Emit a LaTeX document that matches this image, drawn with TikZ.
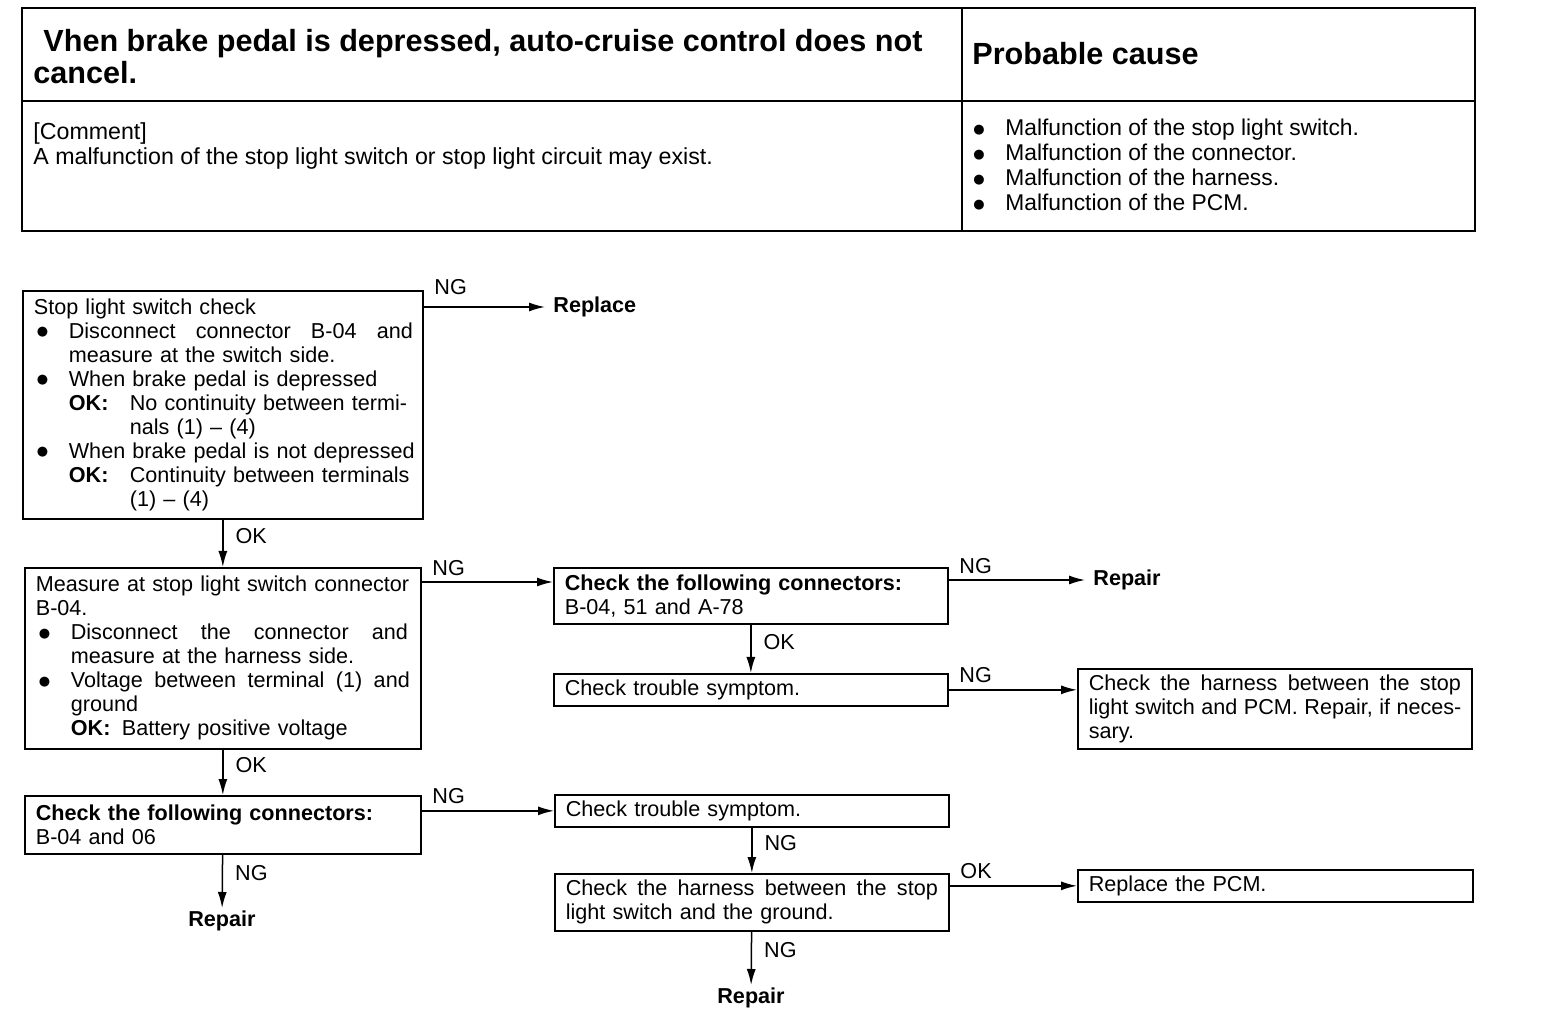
\documentclass[tikz,border=0pt]{standalone}
\usepackage{fontspec}
\setmainfont{Liberation Sans}
\newfontfamily\symfont{DejaVu Sans}
\usetikzlibrary{positioning}
\usetikzlibrary{calc}
\usetikzlibrary{arrows.meta}

\newcommand{\bodyfont}{\fontsize{10.8}{12}\selectfont}
\newcommand{\bul}{\makebox[17.5pt][l]{\hspace{1.5pt}\raisebox{1.3pt}{\symfont\fontsize{6.5}{6.5}\selectfont ●}}}
\newcommand{\ind}{\hspace*{17.5pt}}
\newcommand{\okk}[1]{\makebox[#1][l]{\textbf{OK:}}}
\newcommand{\jl}[2]{{\spaceskip=0.3em plus 2em\makebox[#1][s]{#2}}}

\begin{document}
\begin{tikzpicture}[x=0.5pt, y=-0.5pt,
    box/.style={draw, line width=0.85pt, anchor=north west, align=left, inner xsep=5.5pt, inner ysep=2pt, font=\bodyfont},
    lbl/.style={inner sep=1pt, font=\bodyfont},
    endlbl/.style={inner xsep=4pt, inner ysep=1pt, font=\bodyfont\bfseries},
    arr/.style={-{Latex[length=8pt, width=4.5pt]}, line width=0.75pt}]
    \useasboundingbox (0,0) rectangle (1568,1020);

    % header table
    \draw[line width=1.1pt] (22,8) rectangle (1475,231);
    \draw[line width=0.7pt] (22,101) -- (1475,101) (962,8) -- (962,231);
    \node[anchor=north west, inner sep=0, align=left, font=\fontsize{15.3}{16}\selectfont\bfseries] (ttl) at (33,29) {\hspace*{5pt}Vhen brake pedal is depressed, auto-cruise control does not\\ cancel.};
    \node[anchor=base west, inner sep=0, font=\fontsize{15.3}{16}\selectfont\bfseries] (pc) at (972,65) {Probable cause};
    \node[anchor=north west, inner sep=0, align=left, font=\fontsize{11.6}{12.5}\selectfont] (cmt) at (33,122) {[Comment]\\ A malfunction of the stop light switch or stop light circuit may exist.};
    \node[anchor=north west, inner sep=0, align=left, font=\fontsize{11.4}{12.5}\selectfont] (cause) at (970,119) {\bul Malfunction of the stop light switch.\\ \bul Malfunction of the connector.\\ \bul Malfunction of the harness.\\ \bul Malfunction of the PCM.};

    % check boxes
    \node[box, minimum width=200pt, minimum height=114pt, text width=189pt] (swchk) at (22,290) {Stop light switch check\\
        \bul\jl{172pt}{Disconnect connector B-04 and}\\
        \ind measure at the switch side.\\
        \bul When brake pedal is depressed\\
        \ind\okk{30.5pt}No continuity between termi-\\
        \ind\hspace*{30.5pt}nals (1) -- (4)\\
        \bul\mbox{When brake pedal is not depressed}\\
        \ind\okk{30.5pt}Continuity between terminals\\
        \ind\hspace*{30.5pt}(1) -- (4)};
    \node[box, minimum width=198pt, minimum height=90.5pt, text width=187pt] (meas) at (24,567) {Measure at stop light switch connector\\
        B-04.\\
        \bul\jl{168.5pt}{Disconnect the connector and}\\
        \ind measure at the harness side.\\
        \bul\jl{169.5pt}{Voltage between terminal (1) and}\\
        \ind ground\\
        \ind\okk{25.5pt}Battery positive voltage};
    \node[box, minimum width=198pt, minimum height=29pt, text width=187pt] (conn2) at (24,795) {\textbf{Check the following connectors:}\\ B-04 and 06};
    \node[box, minimum width=197pt, minimum height=28pt, text width=186pt] (conn1) at (553,567) {\textbf{Check the following connectors:}\\ B-04, 51 and A-78};
    \node[box, minimum width=197pt, minimum height=16pt, text width=186pt] (sym1) at (553,673) {Check trouble symptom.};
    \node[box, minimum width=197pt, minimum height=16pt, text width=186pt] (sym2) at (554,794) {Check trouble symptom.};
    \node[box, minimum width=197pt, minimum height=28.5pt, text width=186pt] (hgnd) at (554,873) {\jl{186pt}{Check the harness between the stop}\\ light switch and the ground.};
    \node[box, minimum width=197pt, minimum height=40pt, text width=186pt] (hpcm) at (1077,668) {\jl{186pt}{Check the harness between the stop}\\ \jl{186pt}{light switch and PCM. Repair, if neces-}\\ sary.};
    \node[box, minimum width=197.5pt, minimum height=16pt, text width=186.5pt] (pcm) at (1077,869) {Replace the PCM.};

    % results
    \node[endlbl, anchor=west] (rep1) at (545,307) {Replace};
    \node[endlbl, anchor=west] (rep2) at (1085,580) {Repair};
    \node[endlbl, anchor=north] (rep3) at (222,908) {Repair};
    \node[endlbl, anchor=north] (rep4) at (751,985) {Repair};

    % connectors
    \coordinate (in3) at ($(conn1.north west)+(0,15)$);
    \draw[arr] (swchk.east |- rep1) -- (rep1) node[lbl, pos=0, anchor=south west, xshift=4pt, yshift=5pt] {NG};
    \draw[arr] (swchk) -- (meas) node[lbl, pos=0.35, right=5pt] {OK};
    \draw[arr] (meas.east |- in3) -- (in3) node[lbl, pos=0, anchor=south west, xshift=4pt, yshift=2pt] {NG};
    \draw[arr] (conn1.east |- rep2) -- (rep2) node[lbl, pos=0, anchor=south west, xshift=4pt, yshift=2pt] {NG};
    \draw[arr] (conn1) -- (sym1) node[lbl, pos=0.35, right=5pt] {OK};
    \draw[arr] (sym1) -- (sym1 -| hpcm.west) node[lbl, pos=0, anchor=south west, xshift=4pt, yshift=2pt] {NG};
    \draw[arr] (meas) -- (conn2) node[lbl, pos=0.35, right=5pt] {OK};
    \draw[arr] (conn2.east |- sym2) -- (sym2) node[lbl, pos=0, anchor=south west, xshift=4pt, yshift=2pt] {NG};
    \draw[arr] (conn2) -- (rep3) node[lbl, pos=0.35, right=5pt] {NG};
    \draw[arr] (sym2) -- (hgnd) node[lbl, pos=0.35, right=5pt] {NG};
    \draw[arr] (hgnd.east |- pcm) -- (pcm) node[lbl, pos=0, anchor=south west, xshift=4pt, yshift=2pt] {OK};
    \draw[arr] (hgnd) -- (rep4) node[lbl, pos=0.35, right=5pt] {NG};
\end{tikzpicture}
\end{document}
